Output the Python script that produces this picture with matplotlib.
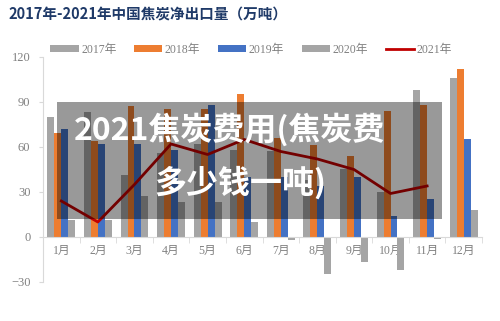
import matplotlib
matplotlib.use("Agg")
import matplotlib.pyplot as plt
import numpy as np
from matplotlib.patches import Rectangle

plt.rcParams['font.family'] = ['Liberation Serif', 'Noto Sans CJK SC']

months = ['1月', '2月', '3月', '4月', '5月', '6月', '7月', '8月', '9月', '10月', '11月', '12月']
y2017 = [80, 83, 41, 56, 62, 58, 57, 38, 45, 30, 98, 106]
y2018 = [69, 64, 87, 85, 85, 95, 66, 61, 54, 84, 88, 112]
y2019 = [72, 62, 62, 58, 88, 40, 40, 34, 40, 14, 25, 65]
y2020 = [11, 11, 27, 23, 23, 10, -2, -25, -17, -22, -1.5, 18]
y2021 = [24, 10, 35, 62, 55, 65, 57, 52, 45, 29, 34]

series = [('2017年', y2017, '#A5A5A5'), ('2018年', y2018, '#ED7D31'),
          ('2019年', y2019, '#4472C4'), ('2020年', y2020, '#A5A5A5')]

fig = plt.figure(figsize=(5, 3.21), dpi=100)
ax = fig.add_axes([0.086, 0.1215, 0.878, 0.701])

x = np.arange(len(months))
w = 0.19
handles = []
for i, (name, vals, col) in enumerate(series):
    b = ax.bar(x + (i - 1.5) * w, vals, w, color=col, label=name, zorder=2)
    handles.append(b)
ln, = ax.plot(np.arange(len(y2021)), y2021, color='#C00000', lw=2, label='2021年', zorder=3)
handles.append(ln)

ax.set_xlim(-0.5, 11.5)
ax.set_ylim(-30, 120)
ax.set_yticks([-30, 0, 30, 60, 90, 120])
ax.tick_params(axis='y', colors='#D9D9D9', labelcolor='#808080', labelsize=9, length=3, pad=6)

ax.spines['bottom'].set_position(('data', 0))
for s in ['top', 'right']:
    ax.spines[s].set_visible(False)
ax.spines['left'].set_color('#D9D9D9')
ax.spines['bottom'].set_color('#D9D9D9')
ax.set_xticks(x)
ax.set_xticklabels(months)
ax.set_xticks(np.arange(-0.5, 12, 1), minor=True)
ax.tick_params(axis='x', which='major', length=0, labelcolor='#808080', labelsize=8.5, pad=6)
ax.tick_params(axis='x', which='minor', length=4, color='#D9D9D9')

ax.legend(handles=handles, loc='lower center', bbox_to_anchor=(0.474, 0.985), ncol=5, frameon=False,
          handlelength=2.4, handleheight=0.6, columnspacing=1.5, handletextpad=0.2,
          fontsize=8.5, labelcolor='#808080', borderaxespad=0)

fig.text(0.016, 0.955, '2017年-2021年中国焦炭净出口量（万吨）', fontsize=10.5, fontweight='bold',
         color='#1F3A68', family=['Noto Sans CJK SC'], va='center')

# overlay box with caption
fig.patches.append(Rectangle((0.114, 0.318), 0.77, 0.3645, transform=fig.transFigure,
                             facecolor='black', alpha=0.4, zorder=5))
fig.text(0.46, 0.595, '2021焦炭费用(焦炭费', fontsize=23, fontweight='bold', color='white',
         family=['Noto Sans CJK SC'], ha='center', va='center', zorder=6)
fig.text(0.48, 0.43, '多少钱一吨)', fontsize=23, fontweight='bold', color='white',
         family=['Noto Sans CJK SC'], ha='center', va='center', zorder=6)

fig.savefig('out.png', dpi=100)
